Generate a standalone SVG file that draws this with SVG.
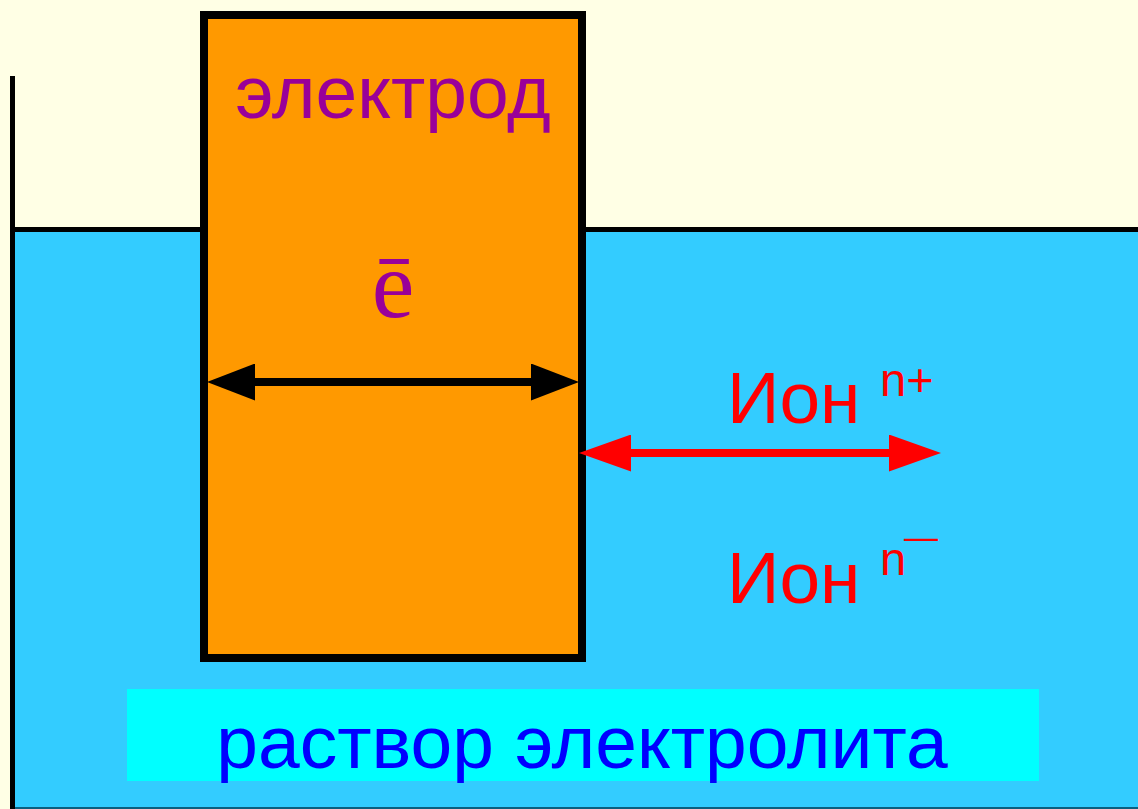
<svg xmlns="http://www.w3.org/2000/svg" width="1138" height="809" viewBox="0 0 1138 809">
<style>
.sans{font-family:"Liberation Sans",Arial,sans-serif}
.serif{font-family:"Liberation Serif","Times New Roman",serif}
.red{fill:#FF0000}
</style>
<defs>
<marker id="hb" viewBox="0 0 48 37" refX="0" refY="18.5" markerWidth="48" markerHeight="37" markerUnits="userSpaceOnUse" orient="auto-start-reverse"><path d="M0,0 L48,18.5 L0,37 Z" fill="#000"/></marker>
<marker id="hr" viewBox="0 0 52 37" refX="0" refY="18.5" markerWidth="52" markerHeight="37" markerUnits="userSpaceOnUse" orient="auto-start-reverse"><path d="M0,0 L52,18.5 L0,37 Z" fill="#FF0000"/></marker>
</defs>
<rect x="0" y="0" width="1138" height="809" fill="#FFFFE5"/>
<g id="solution">
<rect x="15" y="230" width="1123" height="577" fill="#33CCFF"/>
<rect x="15" y="227" width="1123" height="5" fill="#000"/>
<rect x="15" y="807" width="1123" height="2" fill="#0A5F80"/>
<rect x="10" y="76" width="5" height="733" fill="#000"/>
</g>
<g id="electrode">
<rect x="204" y="15" width="378" height="643" fill="#FF9900" stroke="#000" stroke-width="8"/>
<text class="sans" x="393" y="118" font-size="75" fill="#990099" text-anchor="middle">электрод</text>
<text class="serif" x="393" y="317" font-size="96" fill="#990099" text-anchor="middle">ē</text>
</g>
<g id="ion-plus">
<text class="sans red" x="727" y="423" font-size="73">Ион</text>
<text class="sans red" x="880" y="396" font-size="47">n+</text>
</g>
<g id="ion-minus">
<text class="sans red" x="727" y="603" font-size="73">Ион</text>
<text class="sans red" x="880" y="575" font-size="47">n</text>
<text class="sans red" x="904" y="548" font-size="34" textLength="34" lengthAdjust="spacingAndGlyphs">—</text>
</g>
<g id="label">
<rect x="127" y="689" width="912" height="92" fill="#00FFFF"/>
<text class="sans" x="582" y="768" font-size="75" fill="#0000FF" text-anchor="middle">раствор электролита</text>
</g>
<g id="connectors">
<line x1="255" y1="382" x2="531" y2="382" stroke="#000" stroke-width="8" marker-start="url(#hb)" marker-end="url(#hb)"/>
<line x1="631" y1="453" x2="889" y2="453" stroke="#FF0000" stroke-width="8" marker-start="url(#hr)" marker-end="url(#hr)"/>
</g>
</svg>
